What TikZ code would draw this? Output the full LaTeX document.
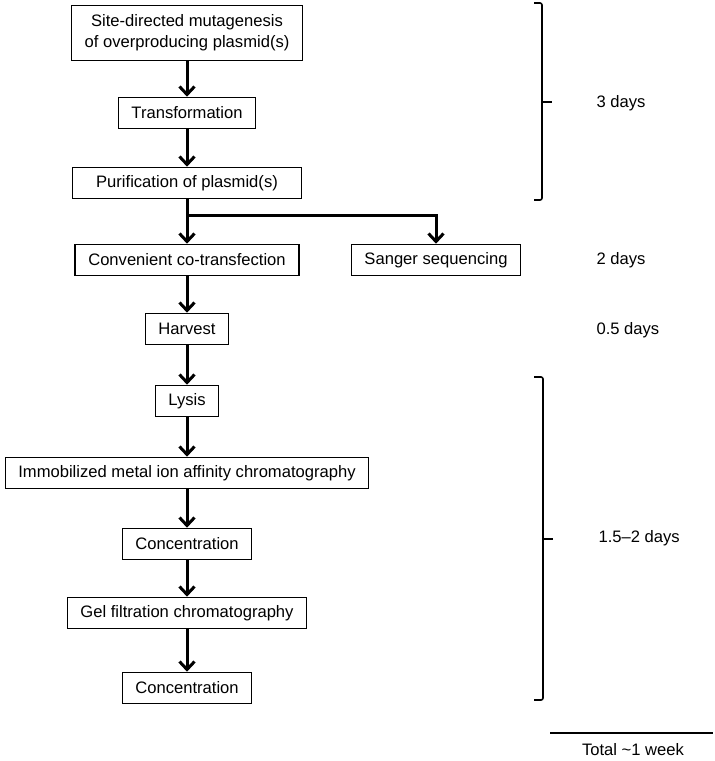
\documentclass[tikz,border=0pt]{standalone}
\usepackage{fontspec}
\setmainfont{Liberation Sans}
\usetikzlibrary{arrows.meta, positioning}

\begin{document}
\begin{tikzpicture}[
    x=1pt, y=-1pt,
    font=\fontsize{16.6}{21}\selectfont,
    stepbox/.style={rectangle, draw=black, line width=1.6pt, inner xsep=13pt,
                    minimum height=31pt, align=center},
    arrow/.style={-{Straight Barb[length=8pt, width=15pt]}, line width=3pt},
    bracket/.style={line width=1.6pt, rounded corners=2pt},
    daylabel/.style={anchor=west}
]
\useasboundingbox (0,0) rectangle (715,761);

% --- Pasos del protocolo ---
\node[stepbox, minimum height=55pt, minimum width=229pt] (mutagen) at (187,33) {Site-directed mutagenesis\\of overproducing plasmid(s)};
\node[stepbox] (transf) at (187,113) {Transformation};
\node[stepbox, minimum width=229pt] (purif) at (187,183) {Purification of plasmid(s)};
\node[stepbox] (cotrans) at (187,260) {Convenient co-transfection};
\node[stepbox] (sanger) at (436,260) {Sanger sequencing};
\node[stepbox] (harvest) at (187,329) {Harvest};
\node[stepbox] (lysis) at (187,401) {Lysis};
\node[stepbox] (imac) at (187,473) {Immobilized metal ion affinity chromatography};
\node[stepbox] (concA) at (187,544) {Concentration};
\node[stepbox] (gel) at (187,613) {Gel filtration chromatography};
\node[stepbox] (concB) at (187,688) {Concentration};

\coordinate (split) at (187,215);

% --- Flechas ---
\draw[arrow] (mutagen) -- (transf);
\draw[arrow] (transf) -- (purif);
\draw[arrow] (purif) -- (cotrans);
\draw[arrow] (split) -| (sanger);
\draw[arrow] (cotrans) -- (harvest);
\draw[arrow] (harvest) -- (lysis);
\draw[arrow] (lysis) -- (imac);
\draw[arrow] (imac) -- (concA);
\draw[arrow] (concA) -- (gel);
\draw[arrow] (gel) -- (concB);

% --- Llaves y tiempos ---
\draw[bracket] (534,3) -- (542,3) -- (542,200) -- (534,200);
\draw[line width=1.6pt] (542,102) -- (552,102);
\draw[bracket] (534,377) -- (543,377) -- (543,700) -- (534,700);
\draw[line width=1.6pt] (543,539) -- (553,539);

\node[daylabel] (tA) at (593,103) {3 days};
\node[daylabel] (tB) at (593,260) {2 days};
\node[daylabel] (tC) at (593,330) {0.5 days};
\node[daylabel] (tD) at (595,538) {1.5–2 days};

\draw[line width=1.4pt] (550,733) -- (713,733);
\node (total) at (633,750) {Total \textasciitilde1 week};
\end{tikzpicture}
\end{document}
